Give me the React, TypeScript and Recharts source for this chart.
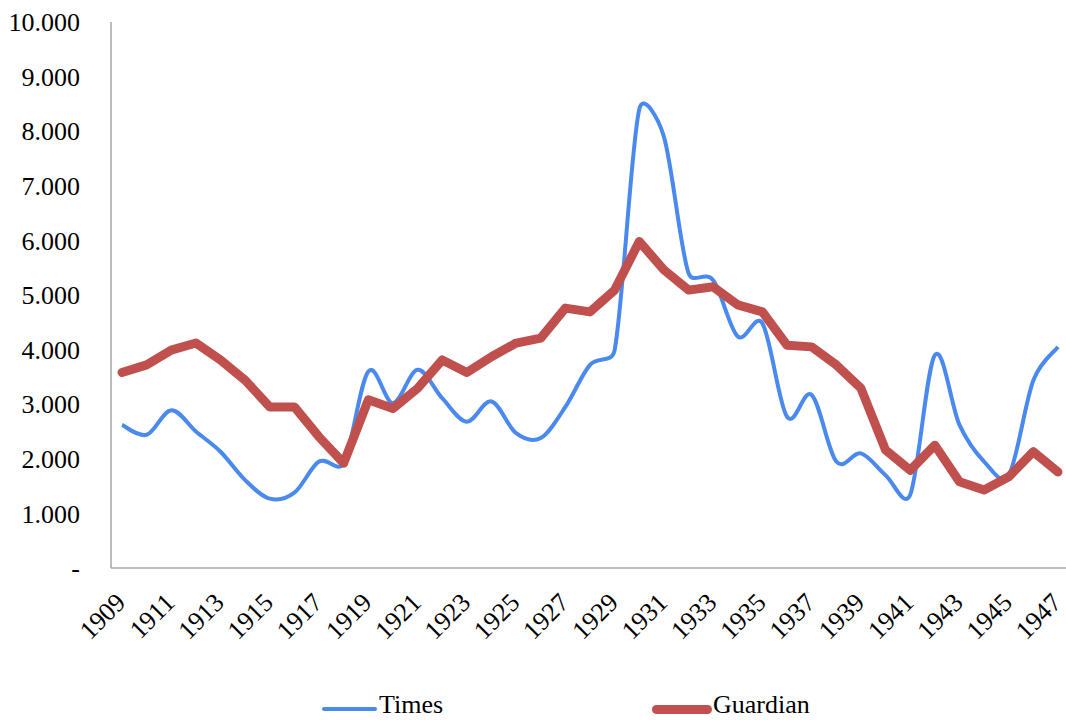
import React from 'react';
import { LineChart, Line, XAxis, YAxis, Legend } from 'recharts';

const years = [
  '1909', '1910', '1911', '1912', '1913', '1914', '1915', '1916', '1917', '1918',
  '1919', '1920', '1921', '1922', '1923', '1924', '1925', '1926', '1927', '1928',
  '1929', '1930', '1931', '1932', '1933', '1934', '1935', '1936', '1937', '1938',
  '1939', '1940', '1941', '1942', '1943', '1944', '1945', '1946', '1947',
];

const times = [
  2620, 2440, 2890, 2500, 2130, 1610, 1270, 1380, 1950, 1920,
  3600, 3020, 3630, 3110, 2680, 3050, 2470, 2380, 2950, 3720,
  3990, 8400, 7900, 5400, 5270, 4240, 4480, 2770, 3170, 1950,
  2100, 1700, 1340, 3900, 2620, 1950, 1700, 3440, 4050,
];

const guardian = [
  3580, 3720, 3990, 4120, 3810, 3440, 2950, 2950, 2400, 1920,
  3080, 2920, 3290, 3810, 3580, 3870, 4120, 4210, 4760, 4690,
  5090, 5980, 5460, 5090, 5150, 4820, 4690, 4080, 4050, 3720,
  3290, 2160, 1790, 2250, 1580, 1430, 1670, 2130, 1760,
];

const yTicks = [0, 1000, 2000, 3000, 4000, 5000, 6000, 7000, 8000, 9000, 10000];

const data = years.map((year, i) => ({ year, Times: times[i], Guardian: guardian[i] }));

const FONT = '"Liberation Serif", "Times New Roman", serif';
const BLUE = '#4a89ed';
const RED = '#c0504d';
const AXIS = '#a6a6a6';

// Excel-style smoothed line: Catmull-Rom tangents, clamped to half the segment length
const smoothCurve = (context: any) => {
  let pts: number[][] = [];
  const clamp = (dx: number, dy: number, max: number) => {
    const len = Math.hypot(dx, dy);
    if (len <= max || len === 0) return [dx, dy];
    return [(dx * max) / len, (dy * max) / len];
  };
  return {
    areaStart() {},
    areaEnd() {},
    lineStart() {
      pts = [];
    },
    lineEnd() {
      if (!pts.length) return;
      context.moveTo(pts[0][0], pts[0][1]);
      for (let i = 0; i < pts.length - 1; i++) {
        const p0 = pts[i - 1] || pts[i];
        const p1 = pts[i];
        const p2 = pts[i + 1];
        const p3 = pts[i + 2] || p2;
        const seg = Math.hypot(p2[0] - p1[0], p2[1] - p1[1]) * 0.5;
        const t1 = clamp((p2[0] - p0[0]) / 6, (p2[1] - p0[1]) / 6, seg);
        const t2 = clamp((p3[0] - p1[0]) / 6, (p3[1] - p1[1]) / 6, seg);
        context.bezierCurveTo(p1[0] + t1[0], p1[1] + t1[1], p2[0] - t2[0], p2[1] - t2[1], p2[0], p2[1]);
      }
    },
    point(x: number, y: number) {
      pts.push([+x, +y]);
    },
  };
};

const formatY = (v: number) => (v === 0 ? '-' : String(v).replace(/\B(?=(\d{3})+(?!\d))/g, '.'));

const YearTick = (props: any) => {
  const { x, y, payload } = props;
  return (
    <g transform={`translate(${x + 5},${y + 36})`}>
      <text x={0} y={0} textAnchor="end" transform="rotate(-45)" fontFamily={FONT} fontSize={26} fill="#000">
        {payload.value}
      </text>
    </g>
  );
};

const renderLegend = () => (
  <div style={{ position: 'relative', width: 1066, height: 40, fontFamily: FONT, fontSize: 26, color: '#000' }}>
    <div style={{ position: 'absolute', left: 322, top: 27, width: 55, height: 4, borderRadius: 2, background: BLUE }} />
    <div style={{ position: 'absolute', left: 379, top: 10, lineHeight: '30px' }}>Times</div>
    <div style={{ position: 'absolute', left: 652, top: 25, width: 60, height: 9, borderRadius: 4.5, background: RED }} />
    <div style={{ position: 'absolute', left: 713, top: 10, lineHeight: '30px' }}>Guardian</div>
  </div>
);

const App: React.FC = () => {
  return (
    <div style={{ position: 'absolute', left: 0, top: 0, width: 1066, height: 720, background: '#fff' }}>
      <LineChart width={1066} height={720} data={data} margin={{ top: 22, right: 0, bottom: 0, left: 0 }}>
        <XAxis
          dataKey="year"
          interval={1}
          height={112}
          tickSize={0}
          tickMargin={0}
          tickLine={false}
          padding={{ left: 11, right: 8 }}
          axisLine={{ stroke: AXIS, strokeWidth: 1.5 }}
          tick={<YearTick />}
        />
        <YAxis
          width={111}
          domain={[0, 10000]}
          ticks={yTicks}
          interval={0}
          tickFormatter={formatY}
          tickSize={0}
          tickMargin={31}
          tickLine={false}
          axisLine={{ stroke: AXIS, strokeWidth: 1.5 }}
          tick={{ fontFamily: FONT, fontSize: 26, fill: '#000' }}
        />
        <Legend verticalAlign="bottom" height={40} content={renderLegend} />
        <Line
          dataKey="Times"
          type={smoothCurve as any}
          stroke={BLUE}
          strokeWidth={4}
          dot={false}
          activeDot={false}
          isAnimationActive={false}
        />
        <Line
          dataKey="Guardian"
          type="linear"
          stroke={RED}
          strokeWidth={9}
          strokeLinecap="round"
          strokeLinejoin="round"
          dot={false}
          activeDot={false}
          isAnimationActive={false}
        />
      </LineChart>
    </div>
  );
};

export default App;
